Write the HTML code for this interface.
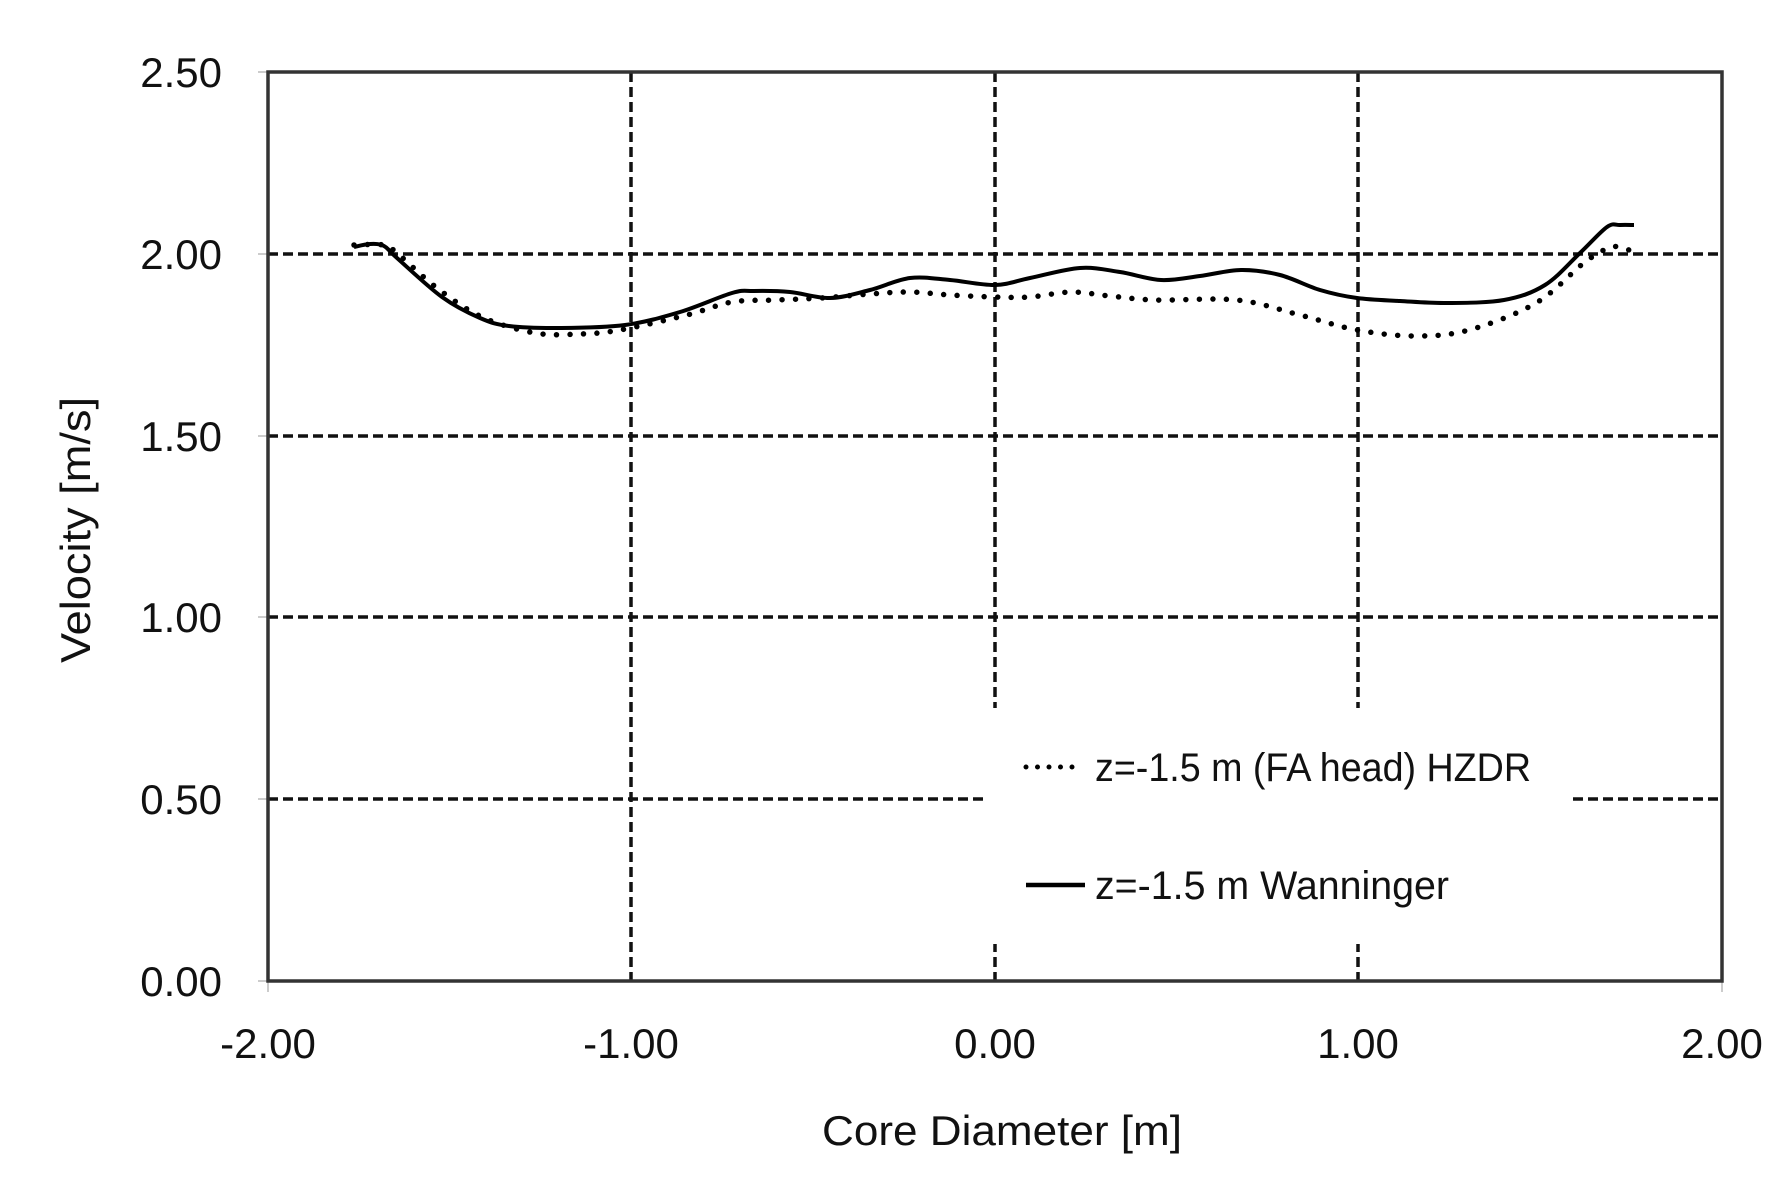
<!DOCTYPE html>
<html><head><meta charset="utf-8"><style>
html,body{margin:0;padding:0;background:#fff;}
svg{display:block;}
text{font-family:"Liberation Sans",sans-serif;fill:#111;}
</style></head><body>
<svg id="s" width="1787" height="1201" viewBox="0 0 1787 1201" xmlns="http://www.w3.org/2000/svg">
<rect width="1787" height="1201" fill="#fff"/>
<g stroke="#111" stroke-width="3.5" stroke-dasharray="10 5" fill="none">
<line x1="268" y1="254" x2="1722" y2="254"/>
<line x1="268" y1="436" x2="1722" y2="436"/>
<line x1="268" y1="617" x2="1722" y2="617"/>
<line x1="268" y1="799" x2="1722" y2="799"/>
<line x1="631" y1="72" x2="631" y2="981"/>
<line x1="995" y1="72" x2="995" y2="981"/>
<line x1="1358" y1="72" x2="1358" y2="981"/>
</g>
<rect x="985" y="708" width="586" height="236" fill="#fff"/>
<g stroke="#ccc" stroke-width="2">
<line x1="258" y1="72" x2="268" y2="72"/><line x1="258" y1="254" x2="268" y2="254"/>
<line x1="258" y1="436" x2="268" y2="436"/><line x1="258" y1="617" x2="268" y2="617"/>
<line x1="258" y1="799" x2="268" y2="799"/><line x1="258" y1="981" x2="268" y2="981"/>
<line x1="268" y1="981" x2="268" y2="992"/><line x1="1722" y1="981" x2="1722" y2="992"/>
</g>
<rect x="268" y="72" width="1454" height="909" fill="none" stroke="#333" stroke-width="3.5"/>
<path id="solid" fill="none" stroke="#000" stroke-width="4" stroke-linejoin="round"/>
<path id="dot" fill="none" stroke="#000" stroke-width="5.5" stroke-linecap="round" stroke-dasharray="0 13.5"/>
<g font-size="42" text-anchor="end">
<text x="222" y="87">2.50</text>
<text x="222" y="269">2.00</text>
<text x="222" y="451">1.50</text>
<text x="222" y="632">1.00</text>
<text x="222" y="814">0.50</text>
<text x="222" y="996">0.00</text>
</g>
<g font-size="42" text-anchor="middle">
<text x="268" y="1058">-2.00</text>
<text x="631" y="1058">-1.00</text>
<text x="995" y="1058">0.00</text>
<text x="1358" y="1058">1.00</text>
<text x="1722" y="1058">2.00</text>
</g>
<text x="822" y="1145" font-size="42" textLength="360" lengthAdjust="spacingAndGlyphs">Core Diameter [m]</text>
<text transform="translate(90,663) rotate(-90)" font-size="42" textLength="266" lengthAdjust="spacingAndGlyphs">Velocity [m/s]</text>
<line x1="1026" y1="767" x2="1083" y2="767" stroke="#000" stroke-width="5" stroke-linecap="round" stroke-dasharray="0 11.5"/>
<text x="1095" y="781" font-size="40" textLength="436" lengthAdjust="spacingAndGlyphs">z=-1.5 m (FA head) HZDR</text>
<line x1="1026" y1="885" x2="1085" y2="885" stroke="#000" stroke-width="4.5"/>
<text x="1095" y="899" font-size="40" textLength="354" lengthAdjust="spacingAndGlyphs">z=-1.5 m Wanninger</text>
</svg>
<script>
function cr(p){var d="M"+p[0][0]+","+p[0][1];for(var i=0;i<p.length-1;i++){var p0=p[i-1]||p[i],p1=p[i],p2=p[i+1],p3=p[i+2]||p2;
d+=" C"+(p1[0]+(p2[0]-p0[0])/6)+","+(p1[1]+(p2[1]-p0[1])/6)+" "+(p2[0]-(p3[0]-p1[0])/6)+","+(p2[1]-(p3[1]-p1[1])/6)+" "+p2[0]+","+p2[1];}return d;}
var solid=[[354,247],[370,244],[384,246],[397,258],[442,297],[480,318],[509,326],[560,328],[625,325],[680,312],[732,293],[754,291],[790,292],[830,298],[870,290],[910,278],[950,280],[995,285],[1030,278],[1080,268],[1120,272],[1161,280],[1200,276],[1241,270],[1280,275],[1320,290],[1357,298],[1400,301],[1446,303],[1504,300],[1545,285],[1580,253],[1607,227],[1620,225],[1634,225]];
var dot=[[354,245],[384,245],[397,253],[437,288],[482,317],[535,333],[580,334],[620,330],[687,315],[732,302],[776,300],[821,298],[870,294],[910,292],[950,295],[995,297],[1030,297],[1071,292],[1110,296],[1156,300],[1237,300],[1300,315],[1357,330],[1415,336],[1469,330],[1536,303],[1585,262],[1612,247],[1629,250]];
document.getElementById("solid").setAttribute("d",cr(solid));
document.getElementById("dot").setAttribute("d",cr(dot));
</script>
</body></html>
